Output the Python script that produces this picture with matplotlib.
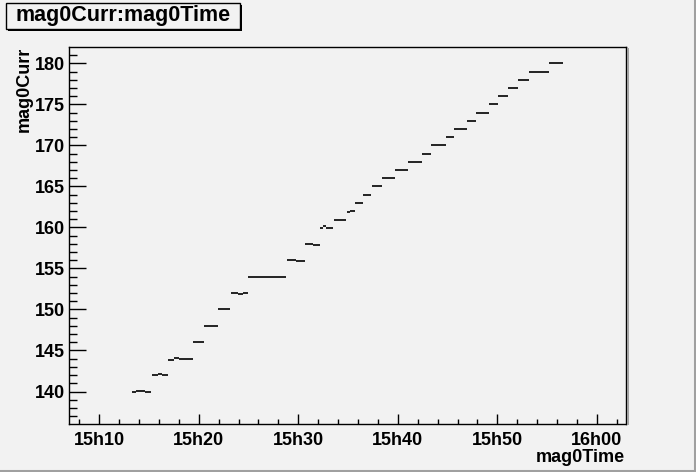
import matplotlib
matplotlib.use("Agg")
import matplotlib.pyplot as plt
from matplotlib.patches import Rectangle
from matplotlib.lines import Line2D
from matplotlib.ticker import FixedLocator, FuncFormatter, MultipleLocator

plt.rcParams['font.family'] = ['Liberation Sans', 'DejaVu Sans']
plt.rcParams['font.weight'] = 'bold'

# Data: plateaus of mag0Curr vs time (minutes after 15h00)
seg_start = [13.3, 13.7, 14.6, 15.3, 15.9, 16.3, 16.9, 17.5, 18.0, 18.9,
             19.4, 20.5, 21.9, 23.2, 23.9, 24.4, 24.9, 25.5, 26.6, 27.5,
             28.5, 28.9, 29.8, 30.7, 31.5, 32.2, 32.5, 32.8, 33.6, 34.9,
             35.2, 35.7, 36.5, 37.4, 38.4, 39.7, 41.0, 42.4, 43.3, 44.8,
             45.6, 46.9, 47.9, 49.2, 50.1, 51.1, 52.1, 53.2, 55.2]
seg_end = [13.7, 14.6, 15.2, 15.9, 16.3, 16.9, 17.5, 18.0, 18.9, 19.4,
           20.5, 21.9, 23.1, 23.9, 24.4, 25.0, 25.5, 26.6, 27.5, 28.5,
           28.8, 29.8, 30.7, 31.5, 32.2, 32.5, 32.8, 33.5, 34.8, 35.2,
           35.7, 36.5, 37.3, 38.4, 39.7, 41.0, 42.4, 43.3, 44.8, 45.6,
           46.9, 47.9, 49.2, 50.1, 51.1, 52.1, 53.2, 55.2, 56.6]
seg_val = [140.0, 140.1, 139.9, 142.0, 142.1, 142.0, 143.9, 144.05, 143.95, 144.0,
           146.0, 148.0, 150.0, 152.0, 151.9, 152.0, 153.95, 154.0, 153.9, 154.0,
           153.9, 156.05, 155.9, 158.0, 157.9, 159.95, 160.15, 159.95, 160.95, 161.85,
           162.0, 163.0, 163.95, 165.0, 166.0, 167.0, 168.0, 169.0, 170.0, 171.0,
           172.0, 173.0, 174.0, 175.0, 176.0, 177.0, 178.0, 179.0, 180.0]

x_major = [10, 20, 30, 40, 50, 60]
x_labels = ['15h10', '15h20', '15h30', '15h40', '15h50', '16h00']
y_major = [140, 145, 150, 155, 160, 165, 170, 175, 180]

W, H = 696, 472
bg = '#f2f2f2'
fig = plt.figure(figsize=(W / 100, H / 100), dpi=100, facecolor=bg)

# axes frame in pixels
left, right, top, bottom = 69.3, 626.3, 47.3, 423.5
ax = fig.add_axes([left / W, 1 - bottom / H, (right - left) / W, (bottom - top) / H])
ax.set_facecolor(bg)

ax.hlines(seg_val, seg_start, seg_end, colors='black', linewidth=1.2)

ax.set_xlim(7.0, 62.95)
ax.set_ylim(136.1, 181.95)

ax.xaxis.set_major_locator(FixedLocator(x_major))
ax.xaxis.set_minor_locator(MultipleLocator(2))
ax.xaxis.set_major_formatter(FuncFormatter(lambda v, p: x_labels[x_major.index(int(round(v)))] if int(round(v)) in x_major else ''))
ax.yaxis.set_major_locator(FixedLocator(y_major))
ax.yaxis.set_minor_locator(MultipleLocator(1))

ax.tick_params(axis='both', which='both', direction='in', top=False, right=False,
               width=1.0, color='black')
ax.tick_params(axis='x', which='major', length=7.5, pad=6, labelsize=13)
ax.tick_params(axis='x', which='minor', length=3.6)
ax.tick_params(axis='y', which='major', length=12, pad=3, labelsize=13)
ax.tick_params(axis='y', which='minor', length=6)
for lab in ax.get_xticklabels() + ax.get_yticklabels():
    lab.set_fontweight('bold')

for s in ax.spines.values():
    s.set_linewidth(1.0)
    s.set_color('black')

# frame shadow on the right
fig.add_artist(Line2D([(right + 1.5) / W] * 2, [1 - bottom / H, 1 - (top + 2) / H],
                      color='#a0a0a0', linewidth=1.4))

# axis labels
fig.text(625 / W, 1 - 457 / H, 'mag0Time', ha='right', va='center',
         fontsize=13, fontweight='bold')
fig.text(24 / W, 1 - 47 / H, 'mag0Curr', ha='center', va='top', rotation=90,
         fontsize=13, fontweight='bold')

# title box with shadow
bx0, bx1, by0, by1 = 5.7, 240.0, 2.7, 28.5
fig.add_artist(Rectangle((bx0 / W + 2 / W, 1 - (by1 + 2) / H), (bx1 - bx0) / W, (by1 - by0) / H,
                         transform=fig.transFigure, facecolor='#000000', edgecolor='none'))
fig.add_artist(Rectangle((bx0 / W, 1 - by1 / H), (bx1 - bx0) / W, (by1 - by0) / H,
                         transform=fig.transFigure, facecolor=bg, edgecolor='black', linewidth=1.0))
fig.text((bx0 + bx1) / 2 / W, 1 - (by0 + by1) / 2 / H, 'mag0Curr:mag0Time',
         ha='center', va='center', fontsize=15.5, fontweight='bold')

# canvas bevel (right and bottom)
fig.add_artist(Line2D([1 - 1.2 / W] * 2, [0, 1], color='#a0a0a0', linewidth=2.2))
fig.add_artist(Line2D([0, 1], [1.2 / H] * 2, color='#a0a0a0', linewidth=2.2))

fig.savefig('out.png', dpi=100, facecolor=bg)
